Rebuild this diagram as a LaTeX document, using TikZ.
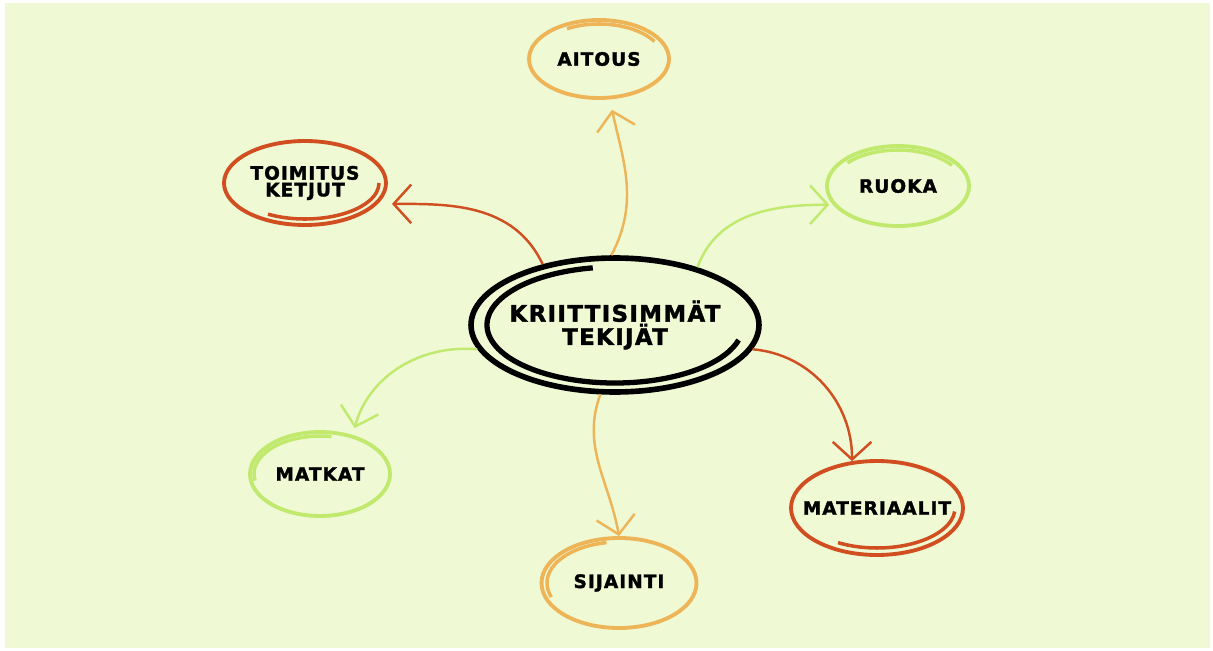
\documentclass[tikz,border=0pt]{standalone}
\usepackage{fontspec}
\newfontfamily\tagfont{DejaVu Sans}[LetterSpace=6,FakeBold=1.8]
\usetikzlibrary{arrows.meta,shapes.geometric}

\definecolor{bg}{RGB}{239,250,213}
\definecolor{rust}{RGB}{208,78,32}
\definecolor{honey}{RGB}{237,180,88}
\definecolor{lime}{RGB}{192,233,110}

% second stroke of a hand drawn ring: options, node, x radius, y radius, from, to
\newcommand\swirl[6]{\draw[#1] ([shift={({#3*cos(#5)},{#4*sin(#5)})}]#2.center)
  arc[start angle=#5,end angle=#6,x radius=#3,y radius=#4];}

\begin{document}
\begin{tikzpicture}[x=0.02cm,y=0.02cm,
	ring/.style={ellipse,draw=#1,line width=2.2pt,inner xsep=-20pt,inner ysep=0pt,align=center,
		font=\tagfont\bfseries\fontsize{10.5}{9.5}\selectfont},
	link/.style={draw=#1,line width=1.4pt,
		-{Straight Barb[length=10pt,width=22pt,line width=1.4pt]}}]
	\fill[white] (0,0) rectangle (1213,650);
	\fill[bg] (5,2) rectangle (1210,647);

	\path (615,325) node (centre) [ring=black,line width=3.2pt,minimum width=5.76cm,minimum height=2.68cm,
			font=\tagfont\bfseries\fontsize{13}{11.5}\selectfont] {KRIITTISIMMÄT\\TEKIJÄT}
		  (599,591) node (aitous) [ring=honey,minimum width=2.8cm,minimum height=1.56cm] {AITOUS}
		  (305,467) node (toimitus) [ring=rust,minimum width=3.24cm,minimum height=1.68cm] {TOIMITUS\\KETJUT}
		  (898,464) node (ruoka) [ring=lime,minimum width=2.84cm,minimum height=1.6cm] {RUOKA}
		  (320,176) node (matkat) [ring=lime,minimum width=2.8cm,minimum height=1.68cm] {MATKAT}
		  (619,67) node (sijainti) [ring=honey,minimum width=3.1cm,minimum height=1.8cm] {SIJAINTI}
		  (877,142) node (materiaalit) [ring=rust,minimum width=3.44cm,minimum height=1.88cm] {MATERIAALIT};

	\swirl{black,line width=3pt}{centre}{128}{58}{100}{345}
	\swirl{honey,line width=2pt}{aitous}{64}{35}{30}{120}
	\swirl{rust,line width=2pt}{toimitus}{74}{36}{240}{360}
	\swirl{lime,line width=2pt}{ruoka}{66}{36}{35}{140}
	\swirl{lime,line width=2pt}{matkat}{66}{38}{80}{190}
	\swirl{honey,line width=2pt}{sijainti}{72}{41}{100}{200}
	\swirl{rust,line width=2pt}{materiaalit}{78}{40}{240}{355}

	\draw[link=honey,shorten >=6pt] (centre.93) to[out=62,in=282] (aitous.285);
	\draw[link=rust,shorten >=8pt] (centre.140) to[out=115,in=0] (toimitus.344);
	\draw[link=lime,shorten >=2pt] (centre.35) to[out=70,in=180] (ruoka.196);
	\draw[link=lime,shorten >=4pt] (centre.190) to[out=175,in=75] (matkat.50);
	\draw[link=honey] (centre.258) to[out=250,in=100] (sijainti.90);
	\draw[link=rust] (centre.350) to[out=-5,in=90] (materiaalit.118);
\end{tikzpicture}
\end{document}
